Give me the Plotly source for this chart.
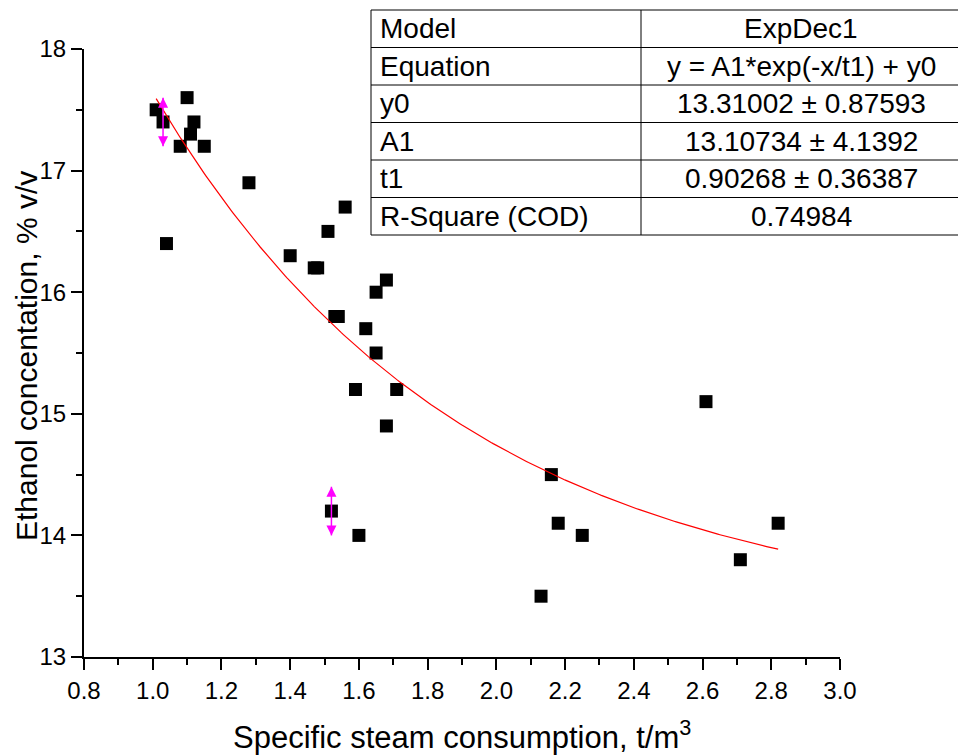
import numpy as np
import plotly.graph_objects as go

# ---- data ----
steam = [1.01, 1.03, 1.10, 1.12, 1.11, 1.08, 1.15, 1.28, 1.04, 1.56, 1.51, 1.40,
         1.47, 1.48, 1.65, 1.68, 1.53, 1.54, 1.62, 1.65, 1.59, 1.71, 1.68, 1.52,
         1.60, 2.61, 2.16, 2.18, 2.25, 2.13, 2.82, 2.71]
ethanol = [17.5, 17.4, 17.6, 17.4, 17.3, 17.2, 17.2, 16.9, 16.4, 16.7, 16.5, 16.3,
           16.2, 16.2, 16.0, 16.1, 15.8, 15.8, 15.7, 15.5, 15.2, 15.2, 14.9, 14.2,
           14.0, 15.1, 14.5, 14.1, 14.0, 13.5, 14.1, 13.8]

# points carrying the magenta error bars
err_x = [1.03, 1.52]
err_y = [17.4, 14.2]
err_v = [0.2, 0.2]

# ExpDec1 fit parameters (from the table)
y0 = 13.31002
A1 = 13.10734
t1 = 0.90268

table_rows = [
    ("Model", "ExpDec1"),
    ("Equation", "y = A1*exp(-x/t1) + y0"),
    ("y0", "13.31002 ± 0.87593"),
    ("A1", "13.10734 ± 4.1392"),
    ("t1", "0.90268 ± 0.36387"),
    ("R-Square (COD)", "0.74984"),
]

x_ticks = [0.8, 1.0, 1.2, 1.4, 1.6, 1.8, 2.0, 2.2, 2.4, 2.6, 2.8, 3.0]
y_ticks = [13, 14, 15, 16, 17, 18]

# ---- layout geometry (pixels in the 966x756 window) ----
OFF = 8                      # page body margin
W, H = 966 - OFF, 756 - OFF
L, R, T, B = 84, 840, 49, 657   # plot area edges in window px
FONT = "Liberation Sans, Arial, sans-serif"


def px_x(p):
    return (p - L) / (R - L)


def px_y(p):
    return (B - p) / (B - T)


fit_x = np.linspace(min(steam), max(steam), 300)
fit_y = A1 * np.exp(-fit_x / t1) + y0

fig = go.Figure()
fig.add_trace(go.Scatter(
    x=steam, y=ethanol, mode="markers",
    marker=dict(symbol="square", size=13, color="black", line=dict(width=0)),
    showlegend=False, hoverinfo="x+y"))
fig.add_trace(go.Scatter(
    x=fit_x, y=fit_y, mode="lines",
    line=dict(color="red", width=1.2), showlegend=False, hoverinfo="skip"))
fig.add_trace(go.Scatter(
    x=err_x, y=err_y, mode="markers",
    marker=dict(size=1, color="#FF00FF", opacity=0),
    error_y=dict(type="data", array=err_v, visible=True, color="#FF00FF",
                 thickness=1.5, width=0),
    showlegend=False, hoverinfo="skip"))
fig.add_trace(go.Scatter(
    x=err_x, y=[a + b for a, b in zip(err_y, err_v)], mode="markers",
    marker=dict(symbol="arrow-up", size=10, color="#FF00FF", line=dict(width=0)),
    showlegend=False, hoverinfo="skip"))
fig.add_trace(go.Scatter(
    x=err_x, y=[a - b for a, b in zip(err_y, err_v)], mode="markers",
    marker=dict(symbol="arrow-down", size=10, color="#FF00FF", line=dict(width=0)),
    showlegend=False, hoverinfo="skip"))

axis_common = dict(
    showgrid=False, zeroline=False, showline=True, linecolor="black", linewidth=2,
    ticks="outside", ticklen=11, tickwidth=2, tickcolor="black",
    tickfont=dict(family=FONT, size=24, color="black"),
    mirror=False,
)
fig.update_xaxes(range=[0.8, 3.0], tickvals=x_ticks,
                 ticktext=[f"{v:.1f}" for v in x_ticks],
                 minor=dict(dtick=0.1, ticks="outside", ticklen=6, tickwidth=2,
                            tickcolor="black", showgrid=False),
                 **axis_common)
fig.update_yaxes(range=[13, 18], tickvals=y_ticks,
                 ticktext=[str(v) for v in y_ticks],
                 minor=dict(dtick=0.5, ticks="outside", ticklen=6, tickwidth=2,
                            tickcolor="black", showgrid=False),
                 **axis_common)

# ---- fit-result table (shapes + text) ----
tx0, tx1, tx2 = 371, 641, 961
ty0, row_h = 10, 37.5
n = len(table_rows)
shapes = []
shapes.append(dict(type="rect", xref="paper", yref="paper",
                   x0=px_x(tx0), x1=px_x(tx2), y0=px_y(ty0), y1=px_y(ty0 + n * row_h),
                   line=dict(color="black", width=1), fillcolor="white", layer="above"))
for i in range(1, n):
    yy = px_y(ty0 + i * row_h)
    shapes.append(dict(type="line", xref="paper", yref="paper",
                       x0=px_x(tx0), x1=px_x(tx2), y0=yy, y1=yy,
                       line=dict(color="black", width=1), layer="above"))
shapes.append(dict(type="line", xref="paper", yref="paper",
                   x0=px_x(tx1), x1=px_x(tx1), y0=px_y(ty0), y1=px_y(ty0 + n * row_h),
                   line=dict(color="black", width=1), layer="above"))

annotations = []
for i, (k, v) in enumerate(table_rows):
    yc = px_y(ty0 + (i + 0.5) * row_h)
    annotations.append(dict(xref="paper", yref="paper", x=px_x(tx0 + 7), y=yc,
                            xanchor="left", yanchor="middle", text=k, showarrow=False,
                            font=dict(family=FONT, size=28, color="black")))
    annotations.append(dict(xref="paper", yref="paper", x=px_x((tx1 + tx2) / 2), y=yc,
                            xanchor="center", yanchor="middle", text=v, showarrow=False,
                            font=dict(family=FONT, size=28, color="black")))

# axis titles
annotations.append(dict(xref="paper", yref="paper", x=px_x((L + R) / 2), y=px_y(735),
                        xanchor="center", yanchor="middle", showarrow=False,
                        text="Specific steam consumption, t/m<sup>3</sup>",
                        font=dict(family=FONT, size=31, color="black")))
annotations.append(dict(xref="paper", yref="paper", x=px_x(27), y=px_y(356),
                        xanchor="center", yanchor="middle", showarrow=False, textangle=-90,
                        text="Ethanol concentation, % v/v",
                        font=dict(family=FONT, size=30, color="black")))

fig.update_layout(
    width=W, height=H,
    margin=dict(l=L - OFF, r=966 - R, t=T - OFF, b=756 - B, pad=0),
    plot_bgcolor="white", paper_bgcolor="white",
    shapes=shapes, annotations=annotations,
    font=dict(family=FONT, color="black"),
)

fig.write_html("out.html")
